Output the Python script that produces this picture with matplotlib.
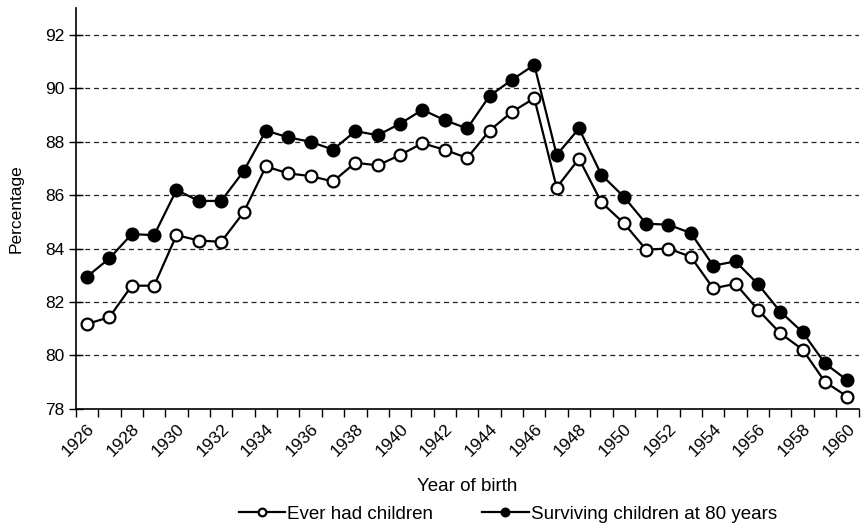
import numpy as np
import matplotlib.pyplot as plt

plt.rcParams['font.family'] = ['Liberation Sans', 'DejaVu Sans']

# Year of birth
years = np.arange(1926, 1961)

# Percentage who ever had children
ever_had = [81.18, 81.43, 82.61, 82.61, 84.50, 84.30, 84.25, 85.35, 87.07, 86.81,
            86.71, 86.51, 87.21, 87.11, 87.50, 87.94, 87.69, 87.39, 88.41, 89.11,
            89.62, 86.28, 87.36, 85.73, 84.95, 83.96, 84.00, 83.69, 82.51, 82.68,
            81.71, 80.83, 80.22, 79.01, 78.46]

# Percentage with surviving children at 80 years
surviving = [82.95, 83.63, 84.54, 84.50, 86.19, 85.78, 85.78, 86.89, 88.41, 88.16,
             87.99, 87.70, 88.39, 88.24, 88.67, 89.19, 88.80, 88.49, 89.71, 90.31,
             90.87, 87.50, 88.49, 86.76, 85.94, 84.93, 84.89, 84.58, 83.36, 83.52,
             82.67, 81.64, 80.87, 79.70, 79.07]

fig = plt.figure(figsize=(8.62, 5.29), dpi=100)
ax = fig.add_axes([0.088, 0.227, 0.908, 0.758])

ax.plot(years, ever_had, color='black', lw=1.6, marker='o', ms=8.5,
        mfc='white', mec='black', mew=1.6, label='Ever had children', zorder=3)
ax.plot(years, surviving, color='black', lw=1.6, marker='o', ms=8.5,
        mfc='black', mec='black', mew=1.6, label='Surviving children at 80 years', zorder=3)

ax.set_xlim(years[0] - 0.5, years[-1] + 0.5)
ax.set_ylim(78, 93)

# labels every other year, tick marks at the category boundaries
ax.set_xticks(years[::2])
ax.set_xticklabels([str(y) for y in years[::2]], rotation=45, ha='right',
                   va='top', rotation_mode='anchor')
ax.set_xticks(np.arange(years[0] - 0.5, years[-1] + 1), minor=True)
ax.tick_params(axis='x', which='major', length=0, pad=9, labelsize=12.5)
ax.tick_params(axis='x', which='minor', length=6, width=1, direction='out')

ax.set_yticks(np.arange(78, 93, 2))
ax.tick_params(axis='y', length=10, width=1, direction='inout', labelsize=12.5, pad=3)

for v in range(80, 93, 2):
    ax.axhline(v, color='#222222', lw=0.9, ls=(0, (4, 3)), zorder=1)

for s in ['top', 'right']:
    ax.spines[s].set_visible(False)
ax.spines['left'].set_linewidth(1.2)
ax.spines['bottom'].set_linewidth(1.2)

ax.set_xlabel('Year of birth', fontsize=13.5, labelpad=13)
ax.set_ylabel('Percentage', fontsize=12.5, labelpad=16)

fig.legend(loc='lower center', bbox_to_anchor=(0.589, -0.02), ncol=2, frameon=False,
           fontsize=13.5, handlelength=2.5, handletextpad=0.1, columnspacing=2.6,
           markerscale=0.65)

fig.savefig('out.png', dpi=100)
